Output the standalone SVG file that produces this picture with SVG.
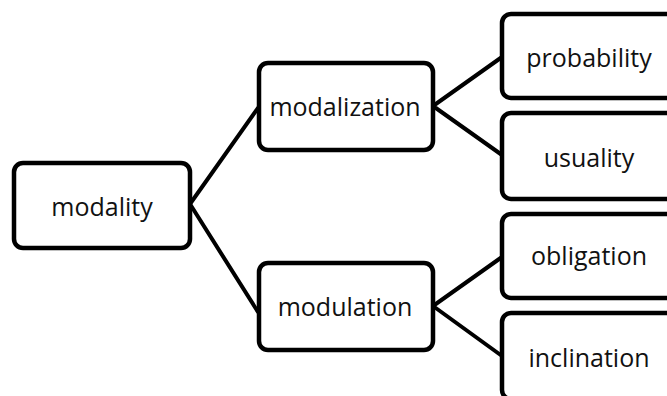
<svg xmlns="http://www.w3.org/2000/svg" width="667" height="396" viewBox="0 0 667 396">
<style>
.box{fill:#fff;stroke:#000;stroke-width:4.5}
.lbl{font-family:"Open Sans","Liberation Sans",sans-serif;font-size:25px;fill:#111;text-anchor:middle}
.con{stroke:#000;stroke-width:4;fill:none;stroke-linecap:round;stroke-linejoin:round}
</style>
<rect width="667" height="396" fill="#fff"/>
<g id="connectors">
<polyline class="con" points="258,108 190,204 258,312"/>
<polyline class="con" points="502,57 433,106 502,155"/>
<polyline class="con" points="502,257 433,306 502,356"/>
</g>
<g id="modality"><rect class="box" x="14" y="163" width="176" height="85" rx="9"/><text class="lbl" x="102" y="216">modality</text></g>
<g id="modalization"><rect class="box" x="259" y="63" width="174" height="87" rx="9"/><text class="lbl" x="345" y="116">modalization</text></g>
<g id="modulation"><rect class="box" x="259" y="263" width="174" height="87" rx="9"/><text class="lbl" x="345" y="316">modulation</text></g>
<g id="probability"><rect class="box" x="502" y="14" width="190" height="84" rx="9"/><text class="lbl" x="589" y="67">probability</text></g>
<g id="usuality"><rect class="box" x="502" y="113" width="190" height="86" rx="9"/><text class="lbl" x="589" y="167">usuality</text></g>
<g id="obligation"><rect class="box" x="502" y="214" width="190" height="84" rx="9"/><text class="lbl" x="589" y="265">obligation</text></g>
<g id="inclination"><rect class="box" x="502" y="313" width="190" height="86" rx="9"/><text class="lbl" x="589" y="367">inclination</text></g>
</svg>
